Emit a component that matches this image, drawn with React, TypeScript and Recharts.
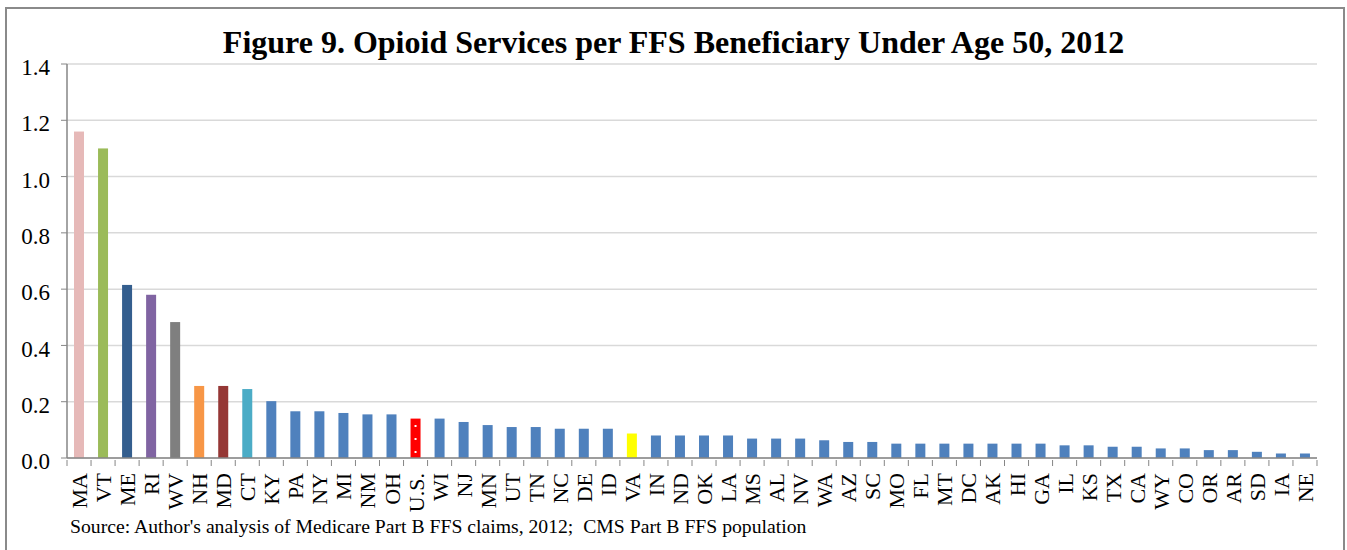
import React from 'react';
import { BarChart, Bar, XAxis, YAxis, CartesianGrid, Cell } from 'recharts';

const states = [
  'MA', 'VT', 'ME', 'RI', 'WV', 'NH', 'MD', 'CT', 'KY', 'PA', 'NY', 'MI', 'NM', 'OH', 'U.S.',
  'WI', 'NJ', 'MN', 'UT', 'TN', 'NC', 'DE', 'ID', 'VA', 'IN', 'ND', 'OK', 'LA', 'MS', 'AL',
  'NV', 'WA', 'AZ', 'SC', 'MO', 'FL', 'MT', 'DC', 'AK', 'HI', 'GA', 'IL', 'KS', 'TX', 'CA',
  'WY', 'CO', 'OR', 'AR', 'SD', 'IA', 'NE',
];

const servicesPerBeneficiary = [
  1.16, 1.10, 0.615, 0.58, 0.483, 0.256, 0.256, 0.245, 0.202, 0.166, 0.166, 0.16, 0.155, 0.155, 0.14,
  0.14, 0.128, 0.117, 0.11, 0.11, 0.104, 0.104, 0.104, 0.087, 0.08, 0.08, 0.08, 0.08, 0.069, 0.069,
  0.069, 0.063, 0.057, 0.057, 0.051, 0.051, 0.051, 0.051, 0.051, 0.051, 0.051, 0.045, 0.045, 0.04, 0.04,
  0.034, 0.034, 0.028, 0.028, 0.022, 0.016, 0.016,
];

// highlighted states; everything else uses the default blue
const highlightColors: Record<string, string> = {
  MA: '#E6B9B8',
  VT: '#9BBB59',
  ME: '#345E8E',
  RI: '#8064A2',
  WV: '#7F7F7F',
  NH: '#F79646',
  MD: '#953735',
  CT: '#4BACC6',
  'U.S.': '#FF0000',
  VA: '#FFFF00',
};
const defaultColor = '#4F81BD';

const yTicks = [0, 0.2, 0.4, 0.6, 0.8, 1.0, 1.2, 1.4];

const data = states.map((s, i) => ({ state: s, value: servicesPerBeneficiary[i] }));

const FONT = '"Liberation Serif", "Times New Roman", serif';
const CHART_W = 1347;
const CHART_H = 550;
const MARGIN = { top: 64, right: 30, left: 7, bottom: 32 };
const Y_AXIS_W = 60;
const band = (CHART_W - MARGIN.left - MARGIN.right - Y_AXIS_W) / states.length;

function StateTick(props: any) {
  const { x, y, payload, index } = props;
  const last = index === states.length - 1;
  return (
    <g transform={`translate(${x},${y})`}>
      <line x1={-band / 2} x2={-band / 2} y1={-6} y2={0} stroke="#868686" />
      {last && <line x1={band / 2} x2={band / 2} y1={-6} y2={0} stroke="#868686" />}
      <text
        transform="rotate(-90)"
        x={-7}
        y={8}
        textAnchor="end"
        fontFamily={FONT}
        fontSize={22}
        fill="#000"
      >
        {payload.value}
      </text>
    </g>
  );
}

function DottedBar(props: any) {
  const { x, y, width, height, fill, payload } = props;
  const dots: number[] = [];
  if (payload.state === 'U.S.') {
    for (let d = y + height - 6; d > y + 3; d -= 13) dots.push(d);
  }
  return (
    <g>
      <rect x={x} y={y} width={width} height={height} fill={fill} />
      {dots.map((d) => (
        <rect key={d} x={x + width / 2 - 1} y={d - 1} width={2} height={2} fill="#fff" />
      ))}
    </g>
  );
}

export default function App() {
  return (
    <div style={{ position: 'absolute', left: 0, top: 0, width: CHART_W, height: CHART_H, background: '#fff', overflow: 'hidden' }}>
      <div
        style={{
          position: 'absolute', left: 5, top: 7, width: 1340, height: 600,
          border: '2px solid #8a8a8a', boxSizing: 'border-box',
        }}
      />
      <div
        style={{
          position: 'absolute', left: 0, top: 24, width: CHART_W, textAlign: 'center',
          fontFamily: FONT, fontWeight: 'bold', fontSize: 32, lineHeight: '36px', color: '#000',
        }}
      >
        Figure 9. Opioid Services per FFS Beneficiary Under Age 50, 2012
      </div>
      <div style={{ position: 'absolute', left: 0, top: 0 }}>
        <BarChart width={CHART_W} height={CHART_H} data={data} margin={MARGIN} barSize={10}>
          <CartesianGrid vertical={false} stroke="#D9D9D9" strokeWidth={1.5} />
          <XAxis
            dataKey="state"
            interval={0}
            tick={<StateTick />}
            tickLine={false}
            axisLine={{ stroke: '#868686', strokeWidth: 1.5 }}
            height={60}
          />
          <YAxis
            domain={[0, 1.4]}
            ticks={yTicks}
            tickFormatter={(v: number) => v.toFixed(1)}
            tick={{ fontFamily: FONT, fontSize: 23, fill: '#000', dy: 3 }}
            tickSize={6}
            tickMargin={11}
            tickLine={{ stroke: '#868686' }}
            axisLine={{ stroke: '#868686', strokeWidth: 1.5 }}
            width={Y_AXIS_W}
          />
          <Bar dataKey="value" isAnimationActive={false} shape={<DottedBar />}>
            {data.map((d) => (
              <Cell key={d.state} fill={highlightColors[d.state] ?? defaultColor} />
            ))}
          </Bar>
        </BarChart>
      </div>
      <div
        style={{
          position: 'absolute', left: 70, top: 514, fontFamily: FONT, fontSize: 19.7,
          lineHeight: '24px', color: '#000', whiteSpace: 'pre',
        }}
      >
        {"Source: Author's analysis of Medicare Part B FFS claims, 2012;  CMS Part B FFS population"}
      </div>
    </div>
  );
}
